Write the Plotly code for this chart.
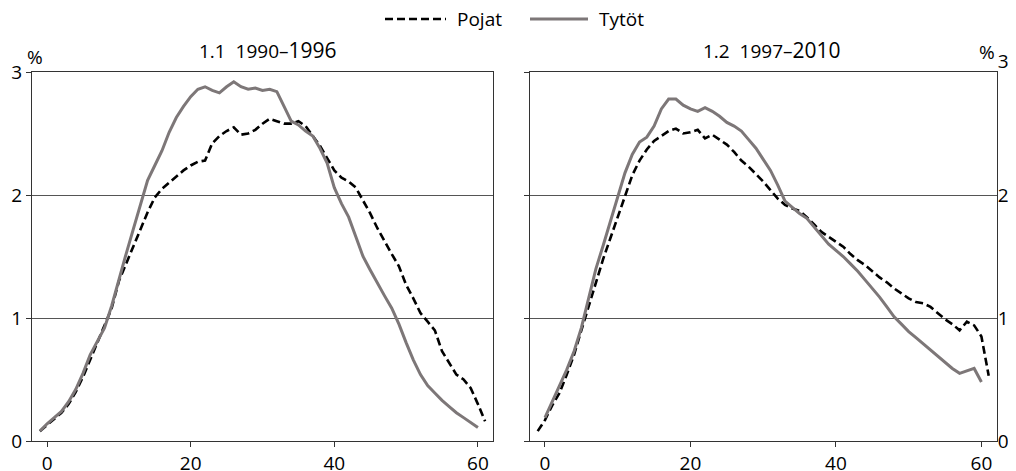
import plotly.graph_objects as go

# ---- data ----
x_boys_1 = list(range(-1, 62))
boys_1 = [0.08, 0.13, 0.18, 0.23, 0.30, 0.40, 0.52, 0.66, 0.80, 0.93,
          1.08, 1.30, 1.44, 1.58, 1.72, 1.86, 1.98, 2.05, 2.10, 2.15,
          2.20, 2.24, 2.27, 2.28, 2.42, 2.48, 2.52, 2.55, 2.49, 2.50,
          2.53, 2.58, 2.62, 2.60, 2.58, 2.58, 2.60, 2.56, 2.48, 2.40,
          2.30, 2.20, 2.14, 2.11, 2.06, 1.96, 1.85, 1.73, 1.62, 1.52,
          1.42, 1.27, 1.16, 1.04, 0.97, 0.90, 0.73, 0.63, 0.54, 0.50,
          0.43, 0.30, 0.16]
x_girls_1 = list(range(-1, 61))
girls_1 = [0.08, 0.14, 0.19, 0.24, 0.32, 0.42, 0.55, 0.70, 0.81, 0.92,
           1.10, 1.32, 1.52, 1.72, 1.93, 2.12, 2.24, 2.36, 2.51, 2.63,
           2.72, 2.80, 2.86, 2.88, 2.85, 2.83, 2.88, 2.92, 2.88, 2.86,
           2.87, 2.85, 2.86, 2.84, 2.72, 2.60, 2.57, 2.52, 2.48, 2.38,
           2.26, 2.06, 1.93, 1.82, 1.66, 1.50, 1.39, 1.28, 1.18, 1.08,
           0.95, 0.80, 0.66, 0.54, 0.45, 0.39, 0.33, 0.28, 0.23, 0.19,
           0.15, 0.11]
x_boys_2 = list(range(-1, 62))
boys_2 = [0.08, 0.17, 0.29, 0.39, 0.54, 0.70, 0.90, 1.10, 1.30, 1.48,
          1.65, 1.82, 2.00, 2.16, 2.28, 2.37, 2.44, 2.48, 2.52, 2.54,
          2.50, 2.51, 2.53, 2.46, 2.49, 2.45, 2.41, 2.35, 2.28, 2.23,
          2.17, 2.11, 2.04, 1.97, 1.92, 1.89, 1.87, 1.82, 1.76, 1.70,
          1.66, 1.62, 1.58, 1.52, 1.47, 1.43, 1.38, 1.33, 1.29, 1.24,
          1.20, 1.16, 1.13, 1.12, 1.09, 1.04, 0.99, 0.95, 0.90, 0.97,
          0.94, 0.85, 0.53]
x_girls_2 = list(range(0, 61))
girls_2 = [0.19, 0.32, 0.45, 0.58, 0.73, 0.92, 1.16, 1.40, 1.59, 1.78,
           1.98, 2.18, 2.33, 2.43, 2.47, 2.56, 2.70, 2.78, 2.78, 2.73,
           2.70, 2.68, 2.71, 2.68, 2.64, 2.59, 2.56, 2.52, 2.45, 2.38,
           2.29, 2.20, 2.08, 1.95, 1.90, 1.85, 1.81, 1.74, 1.67, 1.60,
           1.55, 1.50, 1.44, 1.38, 1.31, 1.24, 1.17, 1.09, 1.01, 0.95,
           0.89, 0.84, 0.79, 0.74, 0.69, 0.64, 0.59, 0.55, 0.57, 0.59,
           0.48]

x_ticks = [0, 20, 40, 60]
y_ticks = [0, 1, 2, 3]
y_ticks_right = [0, 1, 2, 3.09]
y_ticktext = ["0", "1", "2", "3"]
titles = ["1.1&nbsp;&nbsp;1990–<span style='font-size:21px'>1996</span>",
          "1.2&nbsp;&nbsp;1997–<span style='font-size:21px'>2010</span>"]
names = ["Pojat", "Tytöt"]

# page body has an 8px margin; figure drawn inside it
OFF = 8
W, H = 1016 - OFF, 471 - OFF
FONT = "Open Sans"
FS = 19
BOY_COLOR, GIRL_COLOR = "black", "#7d7778"
BOY = dict(color=BOY_COLOR, width=2.6, dash="8px,4px")
GIRL = dict(color=GIRL_COLOR, width=3)


def fx(px):
    return (px - OFF) / W


def fy(py):
    return 1 - (py - OFF) / H


fig = go.Figure()
fig.add_trace(go.Scatter(x=x_boys_1, y=boys_1, mode="lines", line=BOY, name=names[0],
                         xaxis="x", yaxis="y"))
fig.add_trace(go.Scatter(x=x_girls_1, y=girls_1, mode="lines", line=GIRL, name=names[1],
                         xaxis="x", yaxis="y"))
fig.add_trace(go.Scatter(x=x_boys_2, y=boys_2, mode="lines", line=BOY, name=names[0],
                         xaxis="x2", yaxis="y2"))
fig.add_trace(go.Scatter(x=x_girls_2, y=girls_2, mode="lines", line=GIRL, name=names[1],
                         xaxis="x2", yaxis="y2"))
# invisible trace to carry right-side labels of panel 2
fig.add_trace(go.Scatter(x=[None], y=[None], xaxis="x3", yaxis="y3"))

y_bot, y_top = 441, 72
unit = (y_bot - y_top) / 3.0
yd = [fy(y_bot), fy(y_top)]
yd3 = [fy(y_bot), fy(y_bot - 3.2 * unit)]
xd1 = [fx(32), fx(493)]
xd2 = [fx(529.7), fx(996.7)]
tickfont = dict(family=FONT, size=FS, color="black")
LC = "#333"
xcommon = dict(range=[-2.1, 62.1], tickvals=x_ticks, ticks="outside", ticklen=5,
               tickcolor=LC, showline=True, linecolor=LC, linewidth=1.3,
               mirror=True, showgrid=False, zeroline=False, tickfont=tickfont)
ycommon = dict(range=[0, 3], tickvals=y_ticks, showline=True, linecolor=LC,
               linewidth=1.3, mirror=True, showgrid=True, gridcolor="#555",
               gridwidth=1.2, zeroline=False, tickfont=tickfont,
               ticks="outside", ticklen=5, tickcolor=LC)

fig.update_layout(
    width=W, height=H, margin=dict(l=0, r=0, t=0, b=0, autoexpand=False),
    paper_bgcolor="white", plot_bgcolor="rgba(0,0,0,0)",
    font=dict(family=FONT, size=FS, color="black"),
    showlegend=False,
    xaxis=dict(domain=xd1, anchor="y", **xcommon),
    yaxis=dict(domain=yd, anchor="x", **ycommon),
    xaxis2=dict(domain=xd2, anchor="y2", **xcommon),
    yaxis2=dict(domain=yd, anchor="x2", showticklabels=False, **ycommon),
    xaxis3=dict(domain=xd2, anchor="y3", range=[-2.1, 62.1], visible=False),
    yaxis3=dict(domain=yd3, anchor="x3", range=[0, 3.2], tickvals=y_ticks_right,
                ticktext=y_ticktext, side="right", showgrid=False, zeroline=False,
                showline=False, ticks="", tickfont=tickfont),
)

# legend drawn as line samples + labels
leg_y = fy(19)
fig.add_shape(type="line", xref="paper", yref="paper", x0=fx(385), x1=fx(446),
              y0=leg_y, y1=leg_y, line=BOY)
fig.add_shape(type="line", xref="paper", yref="paper", x0=fx(530), x1=fx(588),
              y0=leg_y, y1=leg_y, line=GIRL)

annos = [
    dict(x=fx(455), y=leg_y, text=names[0], xanchor="left"),
    dict(x=fx(597), y=leg_y, text=names[1], xanchor="left"),
    dict(x=fx(268), y=fy(50), text=titles[0], xanchor="center"),
    dict(x=fx(772), y=fy(50), text=titles[1], xanchor="center"),
    dict(x=fx(35), y=fy(57), text="%", xanchor="center"),
    dict(x=fx(987), y=fy(52), text="%", xanchor="center"),
]
for a in annos:
    fig.add_annotation(xref="paper", yref="paper", showarrow=False, yanchor="middle",
                       font=dict(family=FONT, size=FS, color="black"), **a)

fig.write_html("out.html")
